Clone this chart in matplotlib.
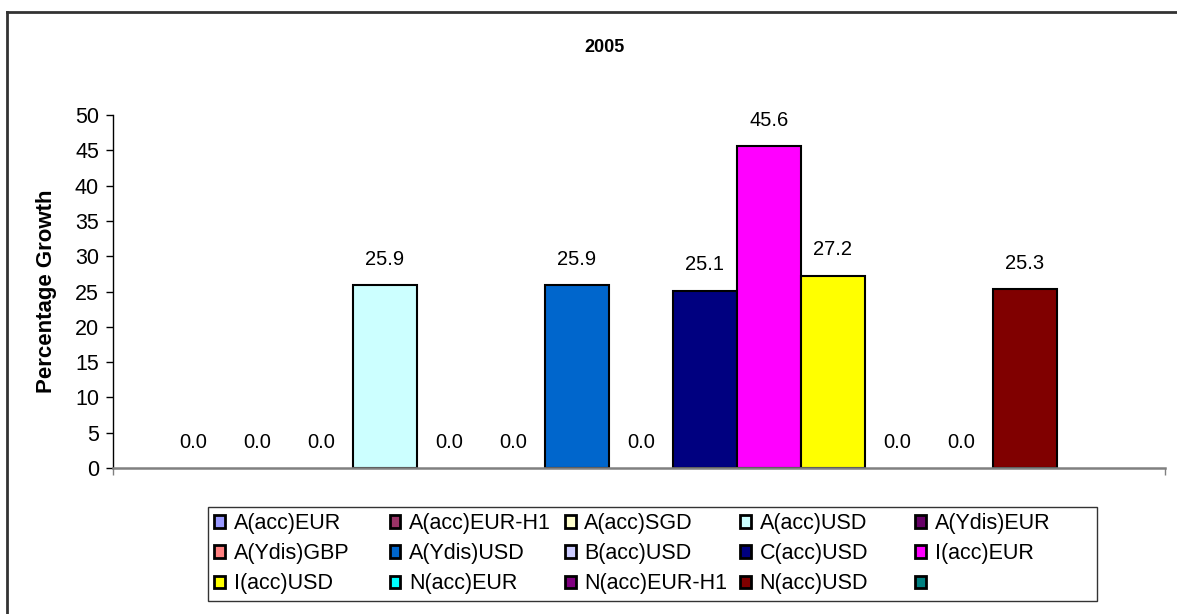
import numpy as np
import matplotlib.pyplot as plt
from matplotlib.lines import Line2D
from matplotlib.patches import Patch

plt.rcParams['font.family'] = ['Liberation Sans', 'DejaVu Sans']

series = ['A(acc)EUR', 'A(acc)EUR-H1', 'A(acc)SGD', 'A(acc)USD', 'A(Ydis)EUR',
          'A(Ydis)GBP', 'A(Ydis)USD', 'B(acc)USD', 'C(acc)USD', 'I(acc)EUR',
          'I(acc)USD', 'N(acc)EUR', 'N(acc)EUR-H1', 'N(acc)USD', '']
values = [0.0, 0.0, 0.0, 25.9, 0.0,
          0.0, 25.9, 0.0, 25.1, 45.6,
          27.2, 0.0, 0.0, 25.3, np.nan]
colors = ['#9999FF', '#993366', '#FFFFCC', '#CCFFFF', '#660066',
          '#FF8080', '#0066CC', '#CCCCFF', '#000080', '#FF00FF',
          '#FFFF00', '#00FFFF', '#800080', '#800000', '#008080']

fig = plt.figure(figsize=(11.77, 6.14), dpi=100)
ax = fig.add_axes([113 / 1177, 1 - 468 / 614, 1052 / 1177, 353 / 614])

for i, (v, c) in enumerate(zip(values, colors)):
    if np.isnan(v):
        continue
    # zero-height bars show no outline in the original
    ax.bar(i, v, width=1.0, color=c, edgecolor='black',
           linewidth=1.5 if v > 0 else 0)
    ax.annotate(f'{v:.1f}', (i, v), xytext=(0, 26), textcoords='offset pixels',
                ha='center', va='center', fontsize=14.5)

xmin, xmax = -1.25, 15.19
ax.set_xlim(xmin, xmax)
ax.set_ylim(0, 50)
ax.set_yticks(range(0, 51, 5))
ax.set_xticks([xmin, xmax])
ax.set_xticklabels(['', ''])
ax.tick_params(axis='y', direction='out', length=5, width=1, labelsize=15.5, pad=5)
ax.tick_params(axis='x', direction='out', length=5, width=1, color='#808080')
for s in ['top', 'right']:
    ax.spines[s].set_visible(False)
ax.spines['left'].set_color('black')
ax.spines['left'].set_linewidth(1)
ax.spines['bottom'].set_color('#808080')
ax.spines['bottom'].set_linewidth(1.8)

ax.set_ylabel('Percentage Growth', fontsize=16, fontweight='bold')
ax.yaxis.set_label_coords((47 - 113) / 1052, 0.5)
ax.yaxis.label.set_va('center')
fig.text(605 / 1177, 1 - 47 / 614, '2005', ha='center', va='center',
         fontsize=13, fontweight='bold')

# legend, row-major order in 5 equal-width columns
proxies = [Patch(facecolor=c, edgecolor='black', linewidth=2) for c in colors]
order = [0, 5, 10, 1, 6, 11, 2, 7, 12, 3, 8, 13, 4, 9, 14]
leg = fig.legend([proxies[k] for k in order], [series[k] for k in order],
                 ncol=5, loc='upper left', bbox_to_anchor=(197 / 1177, 1 - 496 / 614),
                 frameon=True, fancybox=False, edgecolor='black', fontsize=15.5,
                 handlelength=0.5, handleheight=0.5, handletextpad=0.4,
                 columnspacing=0.6, labelspacing=0.42, borderpad=0.3)
leg.get_frame().set_linewidth(1)
leg._legend_handle_box.mode = 'equal'

# outer chart border (left and top visible)
fig.add_artist(Line2D([7 / 1177, 7 / 1177], [0, 1 - 12 / 614], transform=fig.transFigure,
                      color='#333333', linewidth=2))
fig.add_artist(Line2D([7 / 1177, 1], [1 - 12 / 614, 1 - 12 / 614], transform=fig.transFigure,
                      color='#333333', linewidth=2))

fig.savefig('out.png', dpi=100)
